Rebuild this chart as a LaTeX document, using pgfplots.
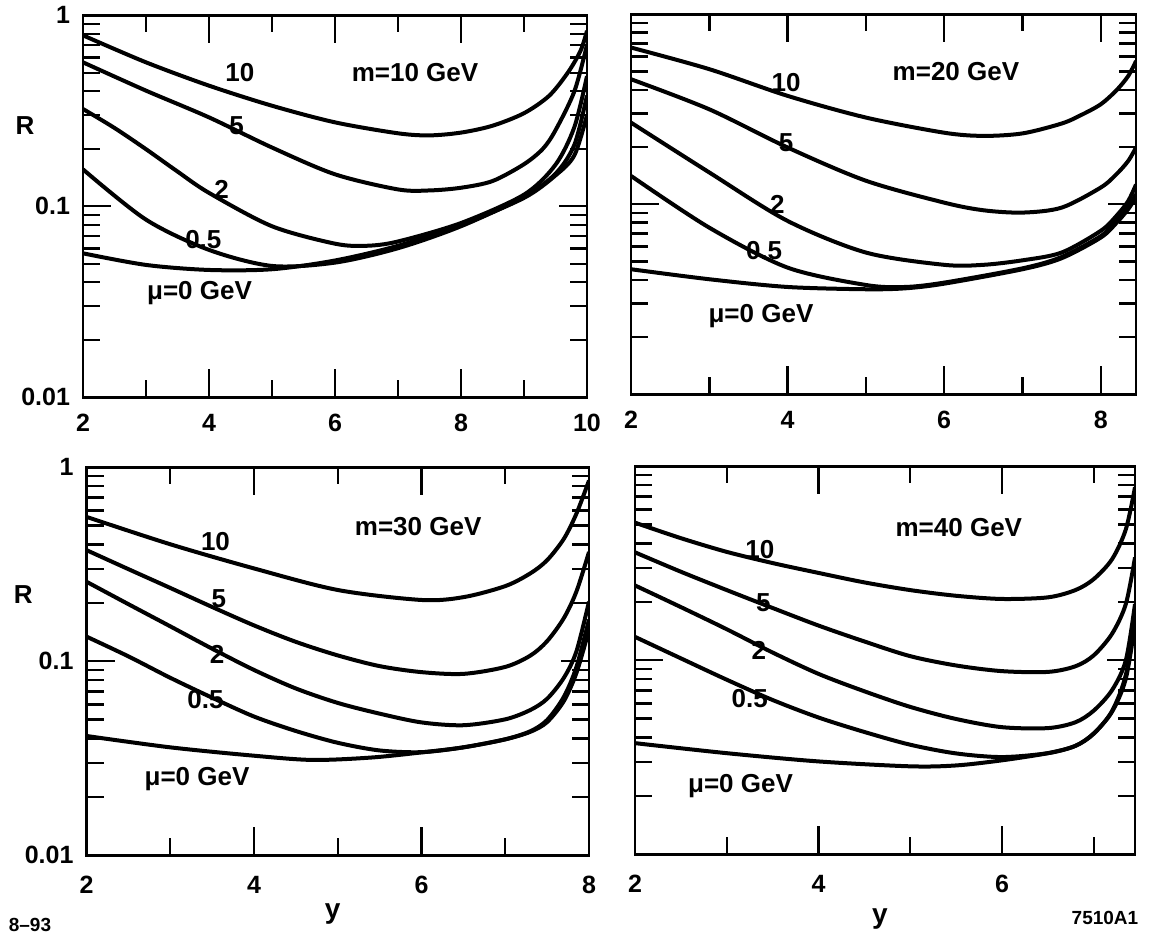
\documentclass[border=0pt]{standalone}
\usepackage{fontspec}
\setmainfont{Liberation Sans}
\usepackage{pgfplots}
\pgfplotsset{compat=1.18}

\begin{document}
\begin{tikzpicture}[font=\bfseries]
\path (0,0) rectangle (577.5pt,464.5pt);

% top left: m = 10 GeV
\begin{axis}[at={(41.5pt,269.5pt)}, anchor=south west,
  scale only axis, width=252pt, height=191pt,
  xmin=2, xmax=10, ymin=0.01, ymax=1, ymode=log,
  xtick={2,4,6,8,10}, xticklabels={2,4,6,8,10}, minor xtick={3,5,7,9},
  ytick={0.01,0.1,1}, yticklabels={0.01,0.1,1},
  minor ytick={0.02,0.03,0.04,0.05,0.06,0.07,0.08,0.09,0.2,0.3,0.4,0.5,0.6,0.7,0.8,0.9},
  tick align=inside, major tick length=14pt, minor tick length=8.5pt,
  axis line style={line width=1.4pt}, tick style={black, line width=1.2pt},
  tick label style={font=\fontsize{12.5}{14}\selectfont\bfseries},
  xticklabel style={yshift=-5pt}, yticklabel style={xshift=-3pt},
  ylabel={R},
  ylabel style={at={(rel axis cs:-0.115,0.71)}, anchor=center, rotate=-90, font=\fontsize{13}{15}\selectfont\bfseries}]
\addplot[black, line width=2pt, smooth] coordinates {(2,0.785) (3,0.567) (4,0.428) (5,0.336) (6,0.275) (7,0.241) (7.5,0.235) (8,0.243) (8.5,0.264) (9,0.307) (9.4,0.379) (9.7,0.503) (9.9,0.654) (10,0.83)};
\addplot[black, line width=2pt, smooth] coordinates {(2,0.567) (3,0.403) (4,0.292) (5,0.203) (6,0.147) (7,0.1225) (7.5,0.121) (8,0.125) (8.5,0.1355) (9,0.166) (9.3,0.2) (9.5,0.25) (9.8,0.40) (10,0.70)};
\addplot[black, line width=2pt, smooth] coordinates {(2,0.323) (2.5,0.257) (3,0.199) (3.5,0.152) (4,0.1175) (5,0.0786) (6,0.0637) (6.5,0.0621) (7,0.0654) (8,0.0817) (9,0.115) (9.5,0.165) (9.8,0.26) (10,0.48)};
\addplot[black, line width=2pt, smooth] coordinates {(2,0.156) (3,0.0851) (4,0.0591) (5,0.0487) (6,0.0507) (7,0.0603) (8,0.0786) (9,0.112) (9.5,0.148) (9.8,0.21) (10,0.38)};
\addplot[black, line width=2pt, smooth] coordinates {(2,0.0567) (3,0.0493) (4,0.0464) (5,0.0468) (6,0.052) (7,0.0621) (8,0.0798) (9,0.1106) (9.5,0.145) (9.8,0.185) (10,0.30)};
\node[font=\fontsize{13}{15}\selectfont\bfseries] at (axis cs:4.49,0.503) {10};
\node[font=\fontsize{13}{15}\selectfont\bfseries] at (axis cs:7.27,0.503) {m=10 GeV};
\node[font=\fontsize{13}{15}\selectfont\bfseries] at (axis cs:4.44,0.264) {5};
\node[font=\fontsize{13}{15}\selectfont\bfseries] at (axis cs:4.20,0.1225) {2};
\node[font=\fontsize{13}{15}\selectfont\bfseries] at (axis cs:3.91,0.0668) {0.5};
\node[font=\fontsize{13}{15}\selectfont\bfseries] at (axis cs:3.85,0.035) {μ=0 GeV};
\end{axis}

% top right: m = 20 GeV
\begin{axis}[at={(315.5pt,271pt)}, anchor=south west,
  scale only axis, width=252.5pt, height=190pt,
  xmin=2, xmax=8.45, ymin=0.01, ymax=1, ymode=log,
  xtick={2,4,6,8}, xticklabels={2,4,6,8}, minor xtick={3,5,7},
  ytick={0.01,0.1,1}, yticklabels={},
  minor ytick={0.02,0.03,0.04,0.05,0.06,0.07,0.08,0.09,0.2,0.3,0.4,0.5,0.6,0.7,0.8,0.9},
  tick align=inside, major tick length=14pt, minor tick length=8.5pt,
  axis line style={line width=1.4pt}, tick style={black, line width=1.2pt},
  tick label style={font=\fontsize{12.5}{14}\selectfont\bfseries},
  xticklabel style={yshift=-5pt}]
\addplot[black, line width=2pt, smooth] coordinates {(2,0.668) (3,0.514) (4,0.372) (5,0.286) (6,0.238) (6.5,0.229) (7,0.236) (7.5,0.266) (7.75,0.295) (8,0.336) (8.2,0.398) (8.35,0.473) (8.45,0.567)};
\addplot[black, line width=2pt, smooth] coordinates {(2,0.455) (3,0.316) (4,0.199) (5,0.133) (6,0.102) (6.5,0.093) (7,0.0904) (7.5,0.096) (8,0.1225) (8.2,0.144) (8.35,0.169) (8.45,0.199)};
\addplot[black, line width=2pt, smooth] coordinates {(2,0.269) (3,0.147) (4,0.0817) (5,0.0557) (6,0.048) (6.5,0.048) (7,0.0507) (7.5,0.0557) (8,0.0725) (8.2,0.0869) (8.35,0.104) (8.45,0.127)};
\addplot[black, line width=2pt, smooth] coordinates {(2,0.141) (3,0.0753) (4,0.0464) (5,0.0376) (5.5,0.0367) (6,0.0387) (7,0.046) (7.5,0.0528) (8,0.068) (8.2,0.0817) (8.35,0.0968) (8.45,0.113)};
\addplot[black, line width=2pt, smooth] coordinates {(2,0.0455) (3,0.0403) (4,0.0367) (5,0.0357) (5.5,0.0361) (6,0.0382) (7,0.0455) (7.5,0.052) (8,0.0668) (8.2,0.0798) (8.35,0.0942) (8.45,0.109)};
\node[font=\fontsize{13}{15}\selectfont\bfseries] at (axis cs:3.98,0.436) {10};
\node[font=\fontsize{13}{15}\selectfont\bfseries] at (axis cs:6.15,0.50) {m=20 GeV};
\node[font=\fontsize{13}{15}\selectfont\bfseries] at (axis cs:3.98,0.211) {5};
\node[font=\fontsize{13}{15}\selectfont\bfseries] at (axis cs:3.87,0.10) {2};
\node[font=\fontsize{13}{15}\selectfont\bfseries] at (axis cs:3.70,0.0568) {0.5};
\node[font=\fontsize{13}{15}\selectfont\bfseries] at (axis cs:3.66,0.0258) {μ=0 GeV};
\end{axis}

% bottom left: m = 30 GeV
\begin{axis}[at={(43.25pt,40.5pt)}, anchor=south west,
  scale only axis, width=251.25pt, height=194pt,
  xmin=2, xmax=8, ymin=0.01, ymax=1, ymode=log,
  xtick={2,4,6,8}, xticklabels={2,4,6,8}, minor xtick={3,5,7},
  ytick={0.01,0.1,1}, yticklabels={0.01,0.1,1},
  minor ytick={0.02,0.03,0.04,0.05,0.06,0.07,0.08,0.09,0.2,0.3,0.4,0.5,0.6,0.7,0.8,0.9},
  tick align=inside, major tick length=14pt, minor tick length=8.5pt,
  axis line style={line width=1.4pt}, tick style={black, line width=1.2pt},
  tick label style={font=\fontsize{12.5}{14}\selectfont\bfseries},
  xticklabel style={yshift=-7pt}, yticklabel style={xshift=-3pt},
  ylabel={R}, xlabel={y},
  ylabel style={at={(rel axis cs:-0.126,0.672)}, anchor=center, rotate=-90, font=\fontsize{13}{15}\selectfont\bfseries},
  xlabel style={at={(rel axis cs:0.49,-0.152)}, anchor=center, font=\fontsize{14}{16}\selectfont\bfseries}]
\addplot[black, line width=2pt, smooth] coordinates {(2,0.555) (3,0.401) (4,0.301) (5,0.233) (6,0.207) (6.5,0.214) (7,0.244) (7.3,0.284) (7.5,0.332) (7.7,0.428) (7.85,0.577) (8,0.855)};
\addplot[black, line width=2pt, smooth] coordinates {(2,0.374) (2.5,0.2985) (3,0.2388) (3.5,0.1905) (4,0.1531) (4.5,0.1259) (5,0.1072) (5.5,0.0944) (6,0.0879) (6.5,0.0861) (7,0.0935) (7.3,0.107) (7.5,0.127) (7.7,0.167) (7.85,0.229) (8,0.366)};
\addplot[black, line width=2pt, smooth] coordinates {(2,0.257) (2.5,0.197) (3,0.1514) (3.5,0.1161) (4,0.0902) (4.5,0.0724) (5,0.061) (5.5,0.0537) (6,0.0484) (6.5,0.0468) (7,0.0502) (7.3,0.0561) (7.5,0.0641) (7.7,0.0822) (7.85,0.1125) (8,0.203)};
\addplot[black, line width=2pt, smooth] coordinates {(2,0.134) (2.5,0.106) (3,0.0822) (3.5,0.0649) (4,0.0519) (4.5,0.0437) (5,0.038) (5.5,0.0347) (6,0.034) (6.5,0.036) (7,0.0396) (7.3,0.0436) (7.5,0.0498) (7.7,0.0656) (7.85,0.0935) (8,0.164)};
\addplot[black, line width=2pt, smooth] coordinates {(2,0.0412) (3,0.036) (4,0.0326) (4.7,0.031) (5.4,0.0319) (6,0.0339) (6.5,0.036) (7,0.0396) (7.3,0.0433) (7.5,0.0486) (7.7,0.0624) (7.85,0.0871) (8,0.145)};
\node[font=\fontsize{13}{15}\selectfont\bfseries] at (axis cs:3.54,0.412) {10};
\node[font=\fontsize{13}{15}\selectfont\bfseries] at (axis cs:5.96,0.492) {m=30 GeV};
\node[font=\fontsize{13}{15}\selectfont\bfseries] at (axis cs:3.58,0.211) {5};
\node[font=\fontsize{13}{15}\selectfont\bfseries] at (axis cs:3.56,0.108) {2};
\node[font=\fontsize{13}{15}\selectfont\bfseries] at (axis cs:3.42,0.0635) {0.5};
\node[font=\fontsize{13}{15}\selectfont\bfseries] at (axis cs:3.32,0.0247) {μ=0 GeV};
\end{axis}

% bottom right: m = 40 GeV
\begin{axis}[at={(317.5pt,41pt)}, anchor=south west,
  scale only axis, width=250pt, height=194pt,
  xmin=2, xmax=7.45, ymin=0.01, ymax=1, ymode=log,
  xtick={2,4,6}, xticklabels={2,4,6}, minor xtick={3,5,7},
  ytick={0.01,0.1,1}, yticklabels={},
  minor ytick={0.02,0.03,0.04,0.05,0.06,0.07,0.08,0.09,0.2,0.3,0.4,0.5,0.6,0.7,0.8,0.9},
  tick align=inside, major tick length=14pt, minor tick length=8.5pt,
  axis line style={line width=1.4pt}, tick style={black, line width=1.2pt},
  tick label style={font=\fontsize{12.5}{14}\selectfont\bfseries},
  xticklabel style={yshift=-7pt},
  xlabel={y},
  xlabel style={at={(rel axis cs:0.49,-0.166)}, anchor=center, font=\fontsize{14}{16}\selectfont\bfseries}]
\addplot[black, line width=2pt, smooth] coordinates {(2,0.512) (2.5,0.426) (3,0.362) (3.5,0.317) (4,0.282) (4.5,0.252) (5,0.230) (5.5,0.215) (6,0.207) (6.5,0.211) (6.8,0.230) (7,0.262) (7.2,0.332) (7.35,0.473) (7.45,0.78)};
\addplot[black, line width=2pt, smooth] coordinates {(2,0.36) (2.5,0.286) (3,0.230) (3.5,0.186) (4,0.151) (4.5,0.125) (5,0.105) (5.5,0.094) (6,0.0879) (6.5,0.0871) (6.8,0.0931) (7,0.106) (7.2,0.137) (7.35,0.195) (7.45,0.339)};
\addplot[black, line width=2pt, smooth] coordinates {(2,0.243) (2.5,0.188) (3,0.1445) (3.5,0.1096) (4,0.0851) (4.5,0.0692) (5,0.0575) (5.5,0.0498) (6,0.0452) (6.5,0.0447) (6.8,0.0479) (7,0.055) (7.2,0.0702) (7.35,0.10) (7.45,0.195)};
\addplot[black, line width=2pt, smooth] coordinates {(2,0.132) (2.5,0.1023) (3,0.0794) (3.5,0.0624) (4,0.0507) (4.5,0.0427) (5,0.0367) (5.5,0.0331) (6,0.0317) (6.5,0.0332) (6.8,0.0362) (7,0.0418) (7.2,0.0548) (7.35,0.084) (7.45,0.165)};
\addplot[black, line width=2pt, smooth] coordinates {(2,0.0374) (3,0.0332) (4,0.0301) (5,0.0284) (5.5,0.0287) (6,0.0305) (6.5,0.0332) (6.8,0.0362) (7,0.042) (7.2,0.0543) (7.35,0.0805) (7.45,0.154)};
\node[font=\fontsize{13}{15}\selectfont\bfseries] at (axis cs:3.36,0.374) {10};
\node[font=\fontsize{13}{15}\selectfont\bfseries] at (axis cs:5.53,0.483) {m=40 GeV};
\node[font=\fontsize{13}{15}\selectfont\bfseries] at (axis cs:3.40,0.199) {5};
\node[font=\fontsize{13}{15}\selectfont\bfseries] at (axis cs:3.35,0.1125) {2};
\node[font=\fontsize{13}{15}\selectfont\bfseries] at (axis cs:3.25,0.0636) {0.5};
\node[font=\fontsize{13}{15}\selectfont\bfseries] at (axis cs:3.15,0.0224) {μ=0 GeV};
\end{axis}

\node[font=\fontsize{9.5}{11}\selectfont\bfseries] at (15pt,5.5pt) {8–93};
\node[font=\fontsize{9.5}{11}\selectfont\bfseries] at (552.5pt,9pt) {7510A1};
\end{tikzpicture}
\end{document}
